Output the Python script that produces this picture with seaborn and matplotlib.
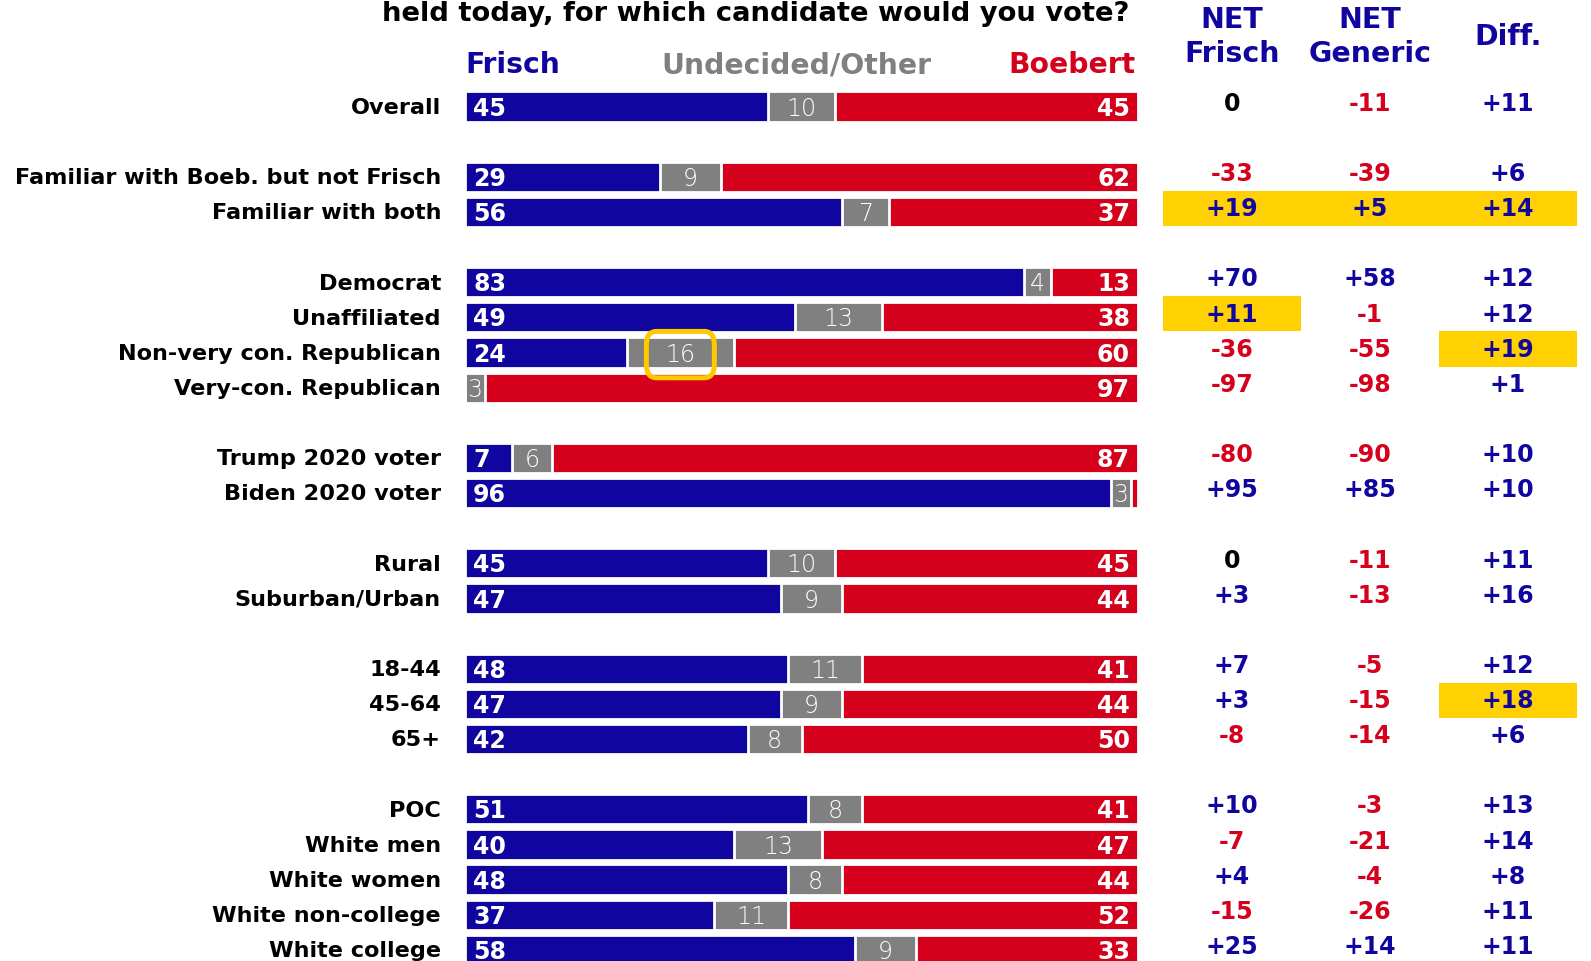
import pandas as pd
import matplotlib.pyplot as plt
import seaborn as sns
from matplotlib.patches import FancyBboxPatch, Rectangle

# --- data ---
labels = ["Overall",
          "Familiar with Boeb. but not Frisch", "Familiar with both",
          "Democrat", "Unaffiliated", "Non-very con. Republican", "Very-con. Republican",
          "Trump 2020 voter", "Biden 2020 voter",
          "Rural", "Suburban/Urban",
          "18-44", "45-64", "65+",
          "POC", "White men", "White women", "White non-college", "White college"]
frisch = [45, 29, 56, 83, 49, 24, 0, 7, 96, 45, 47, 48, 47, 42, 51, 40, 48, 37, 58]
undecided = [10, 9, 7, 4, 13, 16, 3, 6, 3, 10, 9, 11, 9, 8, 8, 13, 8, 11, 9]
boebert = [45, 62, 37, 13, 38, 60, 97, 87, 1, 45, 44, 41, 44, 50, 41, 47, 44, 52, 33]
net_frisch = [0, -33, 19, 70, 11, -36, -97, -80, 95, 0, 3, 7, 3, -8, 10, -7, 4, -15, 25]
net_generic = [-11, -39, 5, 58, -1, -55, -98, -90, 85, -11, -13, -5, -15, -14, -3, -21, -4, -26, 14]
diff = [11, 6, 14, 12, 12, 19, 1, 10, 10, 11, 16, 12, 18, 6, 13, 14, 8, 11, 11]
group_sizes = [1, 2, 4, 2, 2, 3, 5]

highlights = [("Familiar with both", "net_frisch"), ("Familiar with both", "net_generic"),
              ("Familiar with both", "diff"), ("Unaffiliated", "net_frisch"),
              ("Non-very con. Republican", "diff"), ("45-64", "diff")]
boxed = "Non-very con. Republican"

BLUE = "#10069F"
RED = "#D5001C"
GRAY = "#808080"
YELLOW = "#FFD100"

# row positions, one blank row between groups
pos = []
r = 0
for g in group_sizes:
    pos += list(range(r, r + g))
    r += g + 1

df = pd.DataFrame({"label": labels, "frisch": frisch, "undecided": undecided,
                   "boebert": boebert, "net_frisch": net_frisch,
                   "net_generic": net_generic, "diff": diff, "pos": pos})
df["to_undec"] = df["frisch"] + df["undecided"]
df["total"] = df["to_undec"] + df["boebert"]

sns.set_theme(style="white")
plt.rcParams["font.family"] = ["DejaVu Sans"]

W, H = 1591, 961
fig = plt.figure(figsize=(W / 100, H / 100), dpi=100)
x0, x1 = 465, 1138
ax = fig.add_axes([x0 / W, 0, (x1 - x0) / W, 1])

for col, color in [("total", RED), ("to_undec", GRAY), ("frisch", BLUE)]:
    sns.barplot(data=df, x=col, y="pos", orient="h", native_scale=True,
                color=color, saturation=1, width=0.86, edgecolor="white",
                linewidth=2, errorbar=None, ax=ax)

row_px = 35.14
top_px = 106.5
ax.set_ylim((H - top_px) / row_px, -top_px / row_px)
ax.set_xlim(0, 100)
ax.axis("off")

ux = 100 / (x1 - x0)  # data units per pixel

def px_to_x(px):
    return (px - x0) * ux

def py_to_r(py):
    return (py - top_px) / row_px

# title (cut at top like the original)
ax.text(98.7, py_to_r(21), "held today, for which candidate would you vote?",
        ha="right", va="baseline", fontsize=19.7, fontweight="bold", color="black")

# column headers above the bars
hy = py_to_r(65)
ax.text(0, hy, "Frisch", ha="left", va="center", fontsize=20.3, fontweight="bold", color=BLUE)
ax.text(49.3, hy, "Undecided/Other", ha="center", va="center", fontsize=20.3,
        fontweight="bold", color=GRAY)
ax.text(99.7, hy, "Boebert", ha="right", va="center", fontsize=20.3, fontweight="bold", color=RED)

# table columns
col_x = {"net_frisch": px_to_x(1231.8), "net_generic": px_to_x(1369.8), "diff": px_to_x(1507.8)}
col_head = {"net_frisch": "NET\nFrisch", "net_generic": "NET\nGeneric", "diff": "Diff."}
half = 10.25
for c, cx in col_x.items():
    ax.text(cx, py_to_r(37), col_head[c], ha="center", va="center", fontsize=20.5,
            fontweight="bold", color=BLUE, linespacing=1.25)

for lab, c in highlights:
    p = df.loc[df["label"] == lab, "pos"].iloc[0]
    ax.add_patch(Rectangle((col_x[c] - half, p - 0.6), 2 * half, 1.0,
                           facecolor=YELLOW, edgecolor="none", clip_on=False, zorder=0))

for _, row in df.iterrows():
    p = row["pos"]
    ax.text(px_to_x(441), p + 0.04, row["label"], ha="right", va="center",
            fontsize=16.1, fontweight="bold", color="black")
    if row["frisch"] > 0:
        ax.text(1.2, p + 0.06, str(row["frisch"]), ha="left", va="center",
                fontsize=17, fontweight="bold", color="white")
    if row["boebert"] > 2:
        ax.text(98.8, p + 0.06, str(row["boebert"]), ha="right", va="center",
                fontsize=17, fontweight="bold", color="white")
    ax.text(row["frisch"] + row["undecided"] / 2, p + 0.06, str(row["undecided"]),
            ha="center", va="center", fontsize=17, fontweight="light", color="white")
    for c, cx in col_x.items():
        v = row[c]
        txt = "0" if v == 0 else f"{v:+d}"
        color = "black" if v == 0 else (BLUE if v > 0 else RED)
        ax.text(cx, p - 0.08, txt, ha="center", va="center", fontsize=17,
                fontweight="bold", color=color)

# rounded box around the highlighted undecided share
brow = df.loc[df["label"] == boxed].iloc[0]
bx = brow["frisch"] + brow["undecided"] / 2
bw, bh = 10.1, 1.32
ax.add_patch(FancyBboxPatch((bx - bw / 2, brow["pos"] + 0.06 - bh / 2), bw, bh,
                            boxstyle="round,pad=0,rounding_size=1.5",
                            mutation_aspect=0.25,
                            facecolor="none", edgecolor="#FFC800", linewidth=3.6,
                            clip_on=False, zorder=10))

fig.savefig("out.png", dpi=100)
